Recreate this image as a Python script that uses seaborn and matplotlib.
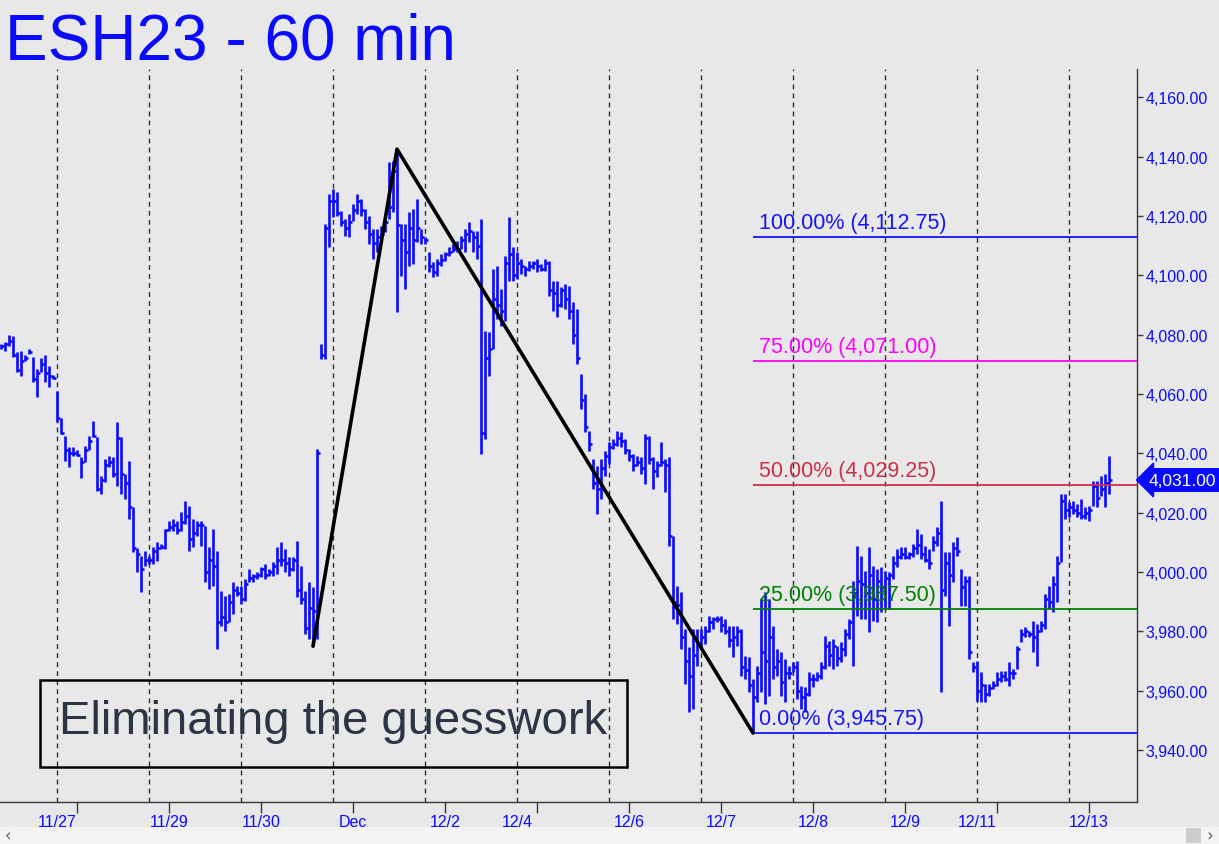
"""
ESH23 60-minute bars with a Fibonacci-style retracement overlay.
"""

import matplotlib

matplotlib.use("Agg")

import matplotlib.pyplot as plt
import numpy as np
import pandas as pd
import seaborn as sns
from matplotlib.patches import Rectangle
from matplotlib.ticker import FuncFormatter
from matplotlib.transforms import blended_transform_factory

# ---------------------------------------------------------------------------
# Data
# ---------------------------------------------------------------------------

bar_high = [
    4077, 4077.5, 4080, 4079.5, 4074, 4074.5, 4073, 4075, 4072.5, 4068.5,
    4072, 4073, 4069.5, 4066.5, 4061, 4052, 4046, 4042, 4042, 4041,
    4038.75, 4042.5, 4046, 4051, 4045.5, 4032.25, 4038, 4039, 4038.75, 4050.5,
    4045.5, 4033, 4037.5, 4022, 4008, 4005.5, 4007, 4005.5, 4008.5, 4010,
    4009.5, 4014.5, 4017.25, 4018, 4017.25, 4020.25, 4024, 4022.25, 4018, 4017.25,
    4017.25, 4015.5, 4008.5, 4014.5, 4007, 3993.5, 3992, 3992.5, 3996.5, 3995.25,
    3995.25, 3997.5, 4001, 3999.25, 4000, 4001.75, 4002.75, 4001, 4003.5, 4008.5,
    4010, 4007.75, 4005, 4005, 4010.5, 4002, 3993.5, 3996.5, 3995, 4041.5,
    4076.75, 4117.25, 4127.25, 4129, 4128, 4121.5, 4119, 4120.5, 4124, 4127.25,
    4125.75, 4122.25, 4120, 4115.5, 4115.5, 4116.5, 4119.5, 4138, 4138.5, 4142.5,
    4117.25, 4117.25, 4121.25, 4122.25, 4125.75, 4115.5, 4113, 4107.75, 4104.5, 4105.5,
    4107, 4108, 4109.5, 4110.5, 4111.5, 4113.25, 4115.5, 4118, 4115, 4115,
    4119, 4081.25, 4081, 4102, 4103, 4095.25, 4106.5, 4119.5, 4109.5, 4107.75,
    4105.5, 4103, 4104.75, 4104.75, 4105.5, 4103.75, 4105.5, 4104.75, 4098, 4098,
    4096, 4097, 4096.5, 4091, 4088.5, 4066.75, 4060, 4047.5, 4038, 4035.75,
    4038, 4040.75, 4043.75, 4044.75, 4047.5, 4047.25, 4044.75, 4041.5, 4039.75, 4039,
    4038.75, 4046.5, 4045.75, 4038.75, 4037.5, 4043.75, 4038, 4038.75, 4012, 3995.25,
    3993.25, 3980.75, 3974.75, 3980.75, 3980.75, 3980.75, 3981.75, 3985.25, 3984.75, 3985.25,
    3985.25, 3984.25, 3981.75, 3981.75, 3981.75, 3980.75, 3971.75, 3971.5, 3964, 3968.25,
    3991, 3993.25, 3991, 3981.75, 3974, 3973, 3970.75, 3968.25, 3969.75, 3970,
    3961.5, 3961.25, 3966.25, 3965.5, 3966.25, 3969.75, 3978.5, 3976.75, 3977.5, 3975,
    3976.5, 3980.75, 3984.25, 3997, 4008.75, 4005.5, 4000.25, 4008.5, 4002, 4001,
    4001.75, 4000.25, 4000, 4005.5, 4007.75, 4008.5, 4008.5, 4006.75, 4009.5, 4014.5,
    4012.75, 4008.75, 4007.75, 4012, 4015.25, 4024, 4006.75, 4006.75, 4010, 4011.75,
    4001, 3998.75, 3998.75, 3969.75, 3970, 3966.25, 3962.25, 3962.25, 3963.25, 3966.25,
    3966.5, 3966.5, 3969.75, 3967.25, 3975, 3980.75, 3981.5, 3980, 3983.5, 3982.5,
    3983.5, 3992.5, 3995.25, 3998.75, 4005.5, 4026.25, 4026.25, 4023.5, 4024, 4023,
    4024.5, 4022, 4022.25, 4030.75, 4030.75, 4032.25, 4033, 4039,
]

bar_low = [
    4075, 4074.5, 4076, 4072.5, 4067.5, 4066, 4071, 4073.5, 4064, 4059,
    4067.5, 4064, 4062.5, 4065, 4050.5, 4046.5, 4037.5, 4035.5, 4039, 4039,
    4031.75, 4037, 4041, 4045.5, 4027.25, 4026.25, 4030.25, 4035.5, 4032, 4029,
    4026.25, 4024.5, 4018, 4006.75, 4000, 3993.25, 4002, 4002.75, 4002.75, 4003.75,
    4007.75, 4007.75, 4013.75, 4013.75, 4012.75, 4013.75, 4016.25, 4007, 4008.5, 4012,
    4008.75, 3996.5, 3994.25, 3995.25, 3974, 3981.75, 3980, 3983.25, 3985.75, 3992,
    3989.25, 3990.25, 3996.5, 3996.5, 3997.5, 3998.25, 3997.5, 3998.75, 3998.75, 3999.25,
    4002, 4000, 3998.75, 4000.25, 3991.5, 3989.25, 3979, 3977.5, 3975, 3977.5,
    4071.75, 4071.75, 4109.5, 4119.5, 4120, 4116.5, 4113.25, 4113, 4118.25, 4120.5,
    4120, 4115.5, 4110.5, 4105.5, 4108, 4111.25, 4114.5, 4119, 4121.25, 4087.5,
    4099.75, 4095.25, 4103, 4103.75, 4111.25, 4110.5, 4110.5, 4101, 4099.5, 4099.75,
    4103, 4104.75, 4106.5, 4107.75, 4107.75, 4108.75, 4108, 4111.25, 4107.75, 4105.5,
    4039.75, 4044.75, 4066, 4075, 4085.25, 4083, 4084.5, 4098, 4098, 4098.75,
    4100.5, 4099.75, 4101.5, 4102, 4101, 4101.5, 4101.5, 4093, 4088, 4086,
    4089.25, 4088.5, 4085.25, 4076.75, 4070, 4055, 4047.25, 4040.75, 4028, 4019.5,
    4024.5, 4032.25, 4036.5, 4041.5, 4042.5, 4042, 4039.75, 4037.5, 4034, 4035.75,
    4033, 4029.5, 4036.5, 4028, 4032, 4035.75, 4027, 4008.75, 3984.25, 3982.5,
    3974, 3962.25, 3952.75, 3953.75, 3968.25, 3974, 3975.75, 3979.75, 3980.75, 3983.25,
    3979.75, 3979, 3974.75, 3971.5, 3975, 3965, 3964, 3959.5, 3945.75, 3956.25,
    3959.5, 3955.5, 3958.25, 3964, 3965, 3958.25, 3956.25, 3964, 3966.25, 3957.25,
    3953.75, 3952.75, 3958.25, 3961.25, 3963.25, 3964, 3967.25, 3968.25, 3967.25, 3968.25,
    3969.75, 3971.75, 3977.5, 3968.25, 3985.25, 3984.25, 3984.25, 3979.75, 3983.5, 3983.25,
    3986.5, 3987.5, 3987.5, 3997.5, 4001.75, 4004.5, 4004.5, 4004.5, 4005, 4006,
    4004.5, 4003.5, 4001, 4007, 4008.75, 3959.5, 3992, 3981.75, 3996.5, 4005.5,
    3988.5, 3988.5, 3970.75, 3966.25, 3956.5, 3956.25, 3956.25, 3958.25, 3960.5, 3961.5,
    3963, 3963.25, 3961.5, 3964, 3967.25, 3976.5, 3978, 3978, 3973, 3968.25,
    3979.75, 3980.75, 3987.5, 3986.5, 3990, 4003.5, 4018, 4018.5, 4019.5, 4018.5,
    4018, 4018, 4017.25, 4022.25, 4022, 4025.5, 4022, 4026.25,
]

bar_close = [
    4076, 4077, 4078, 4073, 4068, 4071, 4072, 4074, 4065, 4067,
    4070, 4067, 4066, 4065.5, 4052, 4047, 4041, 4040, 4040, 4039.5,
    4037, 4041, 4044, 4046, 4028, 4031, 4036, 4037, 4033, 4045,
    4033, 4030, 4022, 4008, 4006, 4001, 4004, 4004, 4007, 4008,
    4008.5, 4014, 4015, 4016, 4014, 4017, 4019, 4011, 4013, 4016,
    4016, 4000, 4004, 4002, 3983, 3985, 3983, 3990, 3994, 3993,
    3991, 3996, 3998, 3998.5, 3999, 4001, 3999, 4000, 4002, 4004,
    4004, 4003, 4001, 4004, 3994, 3991, 3981, 3988, 3987, 4040,
    4073, 4116, 4125, 4125, 4121, 4118, 4116, 4118, 4122, 4125,
    4122, 4118, 4114, 4111, 4113, 4114, 4118, 4123, 4135, 4117,
    4112, 4108, 4116, 4112, 4116, 4113, 4112, 4103, 4101, 4104,
    4105, 4107, 4108, 4109, 4109, 4112, 4114, 4115, 4113, 4110,
    4047, 4072, 4075, 4092, 4090, 4088, 4104, 4107, 4100, 4104,
    4103, 4102, 4103, 4104, 4103, 4102, 4104, 4095, 4094, 4090,
    4095, 4092, 4088, 4080, 4072, 4058, 4049, 4043, 4030, 4028,
    4035, 4039, 4042, 4043, 4045, 4044, 4041, 4039, 4036, 4037,
    4035, 4045, 4038, 4034, 4036, 4037, 4036, 4012, 3990, 3989,
    3978, 3970, 3965, 3972, 3976, 3978, 3980, 3983, 3984, 3984,
    3982, 3980, 3977, 3978, 3980, 3968, 3967, 3962, 3958, 3966,
    3973, 3970, 3978, 3968, 3970, 3963, 3966, 3966, 3968, 3960,
    3958, 3959, 3964, 3964, 3965, 3968, 3975, 3972, 3975, 3971,
    3974, 3979, 3983, 3993, 3997, 3996, 3993, 3999, 3991, 3997,
    3995, 3998, 3999, 4003, 4005, 4006, 4005, 4006, 4008, 4009,
    4006, 4004, 4003, 4010, 4013, 3994, 4003, 3999, 4008, 4007,
    3995, 3997, 3973, 3968, 3960, 3962, 3959, 3961, 3962, 3964,
    3965, 3964, 3966, 3966, 3974, 3979, 3980, 3979, 3978, 3980,
    3982, 3991, 3990, 3996, 4003, 4024, 4021, 4022, 4021, 4020,
    4019, 4020, 4021, 4029, 4025, 4028, 4030, 4031,
]

# swing points of the drawn zig-zag (bar index, price)
swing_bars = [78, 99, 188]
swing_prices = [3975.00, 4142.50, 3945.75]

# retracement levels measured off the swing
fib_pcts = [100, 75, 50, 25, 0]
fib_levels = [4112.75, 4071.00, 4029.25, 3987.50, 3945.75]
fib_colors = ["#1414ff", "#ff00ff", "#cc3049", "#008000", "#1414ff"]

# date axis: bar index where each label sits
date_labels = ["11/27", "11/29", "11/30", "Dec", "12/2", "12/4",
               "12/6", "12/7", "12/8", "12/9", "12/11", "12/13"]
date_label_bars = [14, 42, 65, 88, 111, 129, 157, 180, 203, 226, 244, 272]

price_ticks = list(range(3940, 4161, 20))

BG = "#e8e8e8"
BLUE = "#0a0aff"
AXIS = "#3a3a3a"

# ---------------------------------------------------------------------------
# Figure
# ---------------------------------------------------------------------------

sns.set_theme(style="white")
plt.rcParams["font.family"] = ["Liberation Sans", "DejaVu Sans"]

W, H = 1219, 845
fig = plt.figure(figsize=(W / 100, H / 100), dpi=100, facecolor=BG)
ax = fig.add_axes([0, 42 / H, 1137 / W, 733 / H])
ax.set_facecolor(BG)

bars = pd.DataFrame({"high": bar_high, "low": bar_low, "close": bar_close})
bars["bar"] = np.arange(len(bars))

# session separators
session_start, session_len = 14, 23
for x in range(session_start, len(bars), session_len):
    ax.axvline(x, color="#303030", lw=1.0, ls=(0, (3.5, 3.0)), zorder=1)

# OHLC-style bars: high-low stick with a close tick on the right
ax.vlines(bars["bar"], bars["low"], bars["high"], color=BLUE, lw=1.9, zorder=2)
ax.hlines(bars["close"], bars["bar"], bars["bar"] + 0.75, color=BLUE, lw=1.9, zorder=2)

# retracement lines and labels
x_right = 284
for pct, level, color in zip(fib_pcts, fib_levels, fib_colors):
    ax.hlines(level, swing_bars[-1], x_right, color=color, lw=1.3, zorder=3)
    ax.text(189.6, level + 1.4, f"{pct:.2f}% ({level:,.2f})", color=color,
            fontsize=15.5, ha="left", va="bottom", zorder=4)

# zig-zag
sns.lineplot(x=swing_bars, y=swing_prices, ax=ax, color="black", lw=2.6,
             sort=False, zorder=5)

ax.set_xlim(-0.25, x_right)
ax.set_ylim(3922.5, 4169.5)
ax.set_xlabel("")
ax.set_ylabel("")

for side in ("left", "top"):
    ax.spines[side].set_visible(False)
for side in ("right", "bottom"):
    ax.spines[side].set_color(AXIS)
    ax.spines[side].set_linewidth(1.0)

# right price axis
ax.yaxis.tick_right()
ax.set_yticks(price_ticks)
ax.yaxis.set_major_formatter(FuncFormatter(lambda v, _: f"{v:,.2f}"))
ax.tick_params(axis="y", which="major", right=True, left=False, direction="out",
               length=4, width=1, color=AXIS, labelcolor=BLUE, labelsize=11.5, pad=2)

# date axis
ax.xaxis.remove_overlapping_locs = False
ax.set_xticks(date_label_bars)
ax.set_xticklabels(date_labels)
ax.set_xticks(np.arange(19, len(bars), session_len), minor=True)
ax.tick_params(axis="x", which="major", bottom=True, length=0, pad=9,
               labelcolor=BLUE, labelsize=11.5)
ax.tick_params(axis="x", which="minor", bottom=True, direction="out",
               length=8, width=1, color=AXIS)
ax.grid(False)

# last price tag
last_price = bar_close[-1]
ax.text(1.0105, last_price, f"{last_price:,.2f}",
        transform=blended_transform_factory(ax.transAxes, ax.transData),
        color="white", fontsize=12.5, ha="left", va="center", zorder=6,
        bbox=dict(boxstyle="larrow,pad=0.22", fc=BLUE, ec=BLUE))

# title
fig.text(5 / W, 1 - 60 / H, "ESH23 - 60 min", color=BLUE, fontsize=46,
         ha="left", va="baseline")

# caption box
fig.patches.append(Rectangle((40 / W, 1 - 768 / H), 587 / W, 87 / H,
                             transform=fig.transFigure, fill=False,
                             ec="black", lw=1.8, zorder=6))
fig.text(333 / W, 1 - 722 / H, "Eliminating the guesswork", color="#2c3446",
         fontsize=34, ha="center", va="center")

# scroll bar strip at the bottom
fig.patches.append(Rectangle((0, 0), 1, 17 / H, transform=fig.transFigure,
                             fc="#f3f3f3", ec="none"))
fig.patches.append(Rectangle((1186 / W, 1 / H), 15 / W, 15 / H,
                             transform=fig.transFigure, fc="#cdcdcd", ec="none"))
fig.text(8 / W, 8.5 / H, "‹", color="#606060", fontsize=12, ha="center",
         va="center", family="DejaVu Sans")
fig.text(1210 / W, 8.5 / H, "›", color="#606060", fontsize=12, ha="center",
         va="center", family="DejaVu Sans")

fig.savefig("out.png", dpi=100, facecolor=BG)
